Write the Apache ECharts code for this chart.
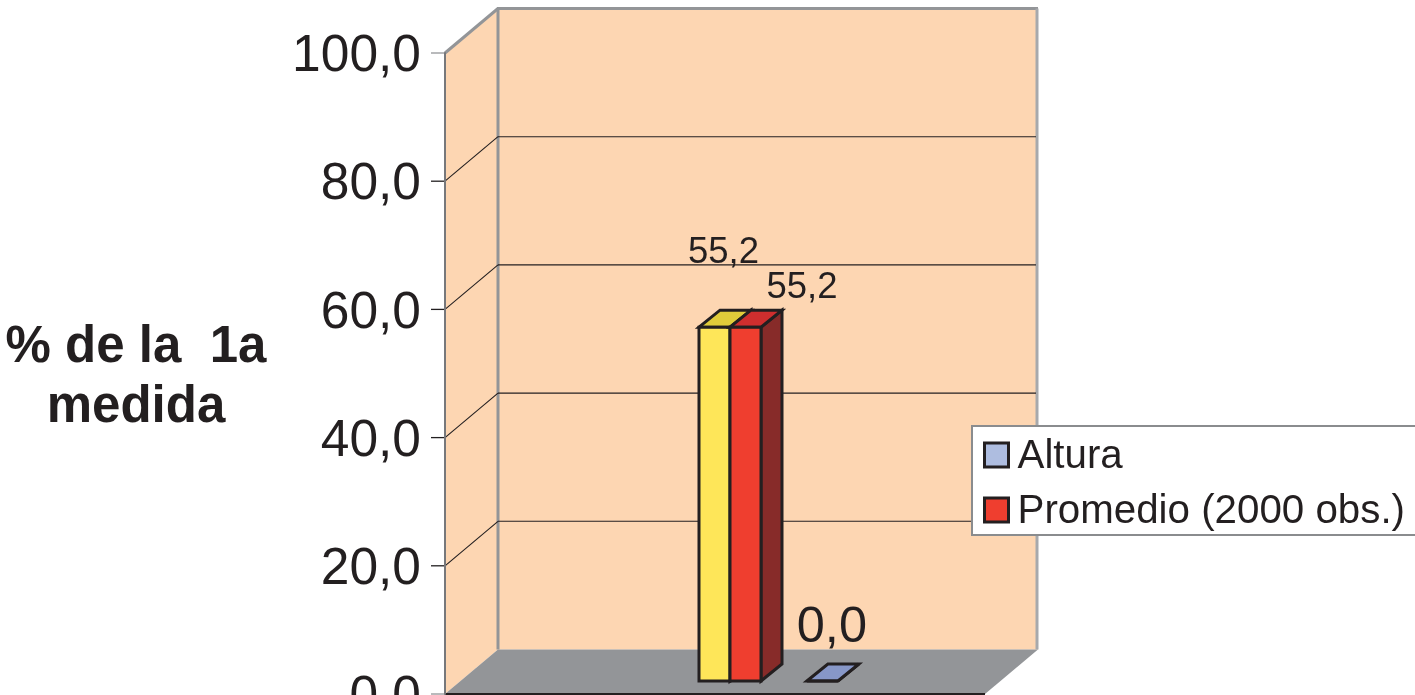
<!DOCTYPE html>
<html>
<head>
<meta charset="utf-8">
<style>html,body{margin:0;padding:0;background:#fff}#chart{width:1415px;height:695px}</style>
<script src="https://cdn.jsdelivr.net/npm/echarts@6/dist/echarts.min.js"></script>
</head>
<body>
<div id="chart"></div>
<script>
// Values of the chart
const categories = [''];
const yTicks = [0, 20, 40, 60, 80, 100];
const referencia = [55.2];
const promedio = [55.2];
const altura = [0.0];

const INK = '#231f20';
const FONT = '"Liberation Sans", Arial, sans-serif';
const fmt = v => v.toFixed(1).replace('.', ',');

// Oblique projection of the chart box and of the bars
const BOX_DX = 53, BOX_DY = -44.5;
const BAR_W = 31, BAR_DX = 21, BAR_DY = -17, PLANE_DX = 15, PLANE_DY = -13;

function poly(points, fill, stroke, width) {
  return { type: 'polygon', shape: { points }, style: { fill, stroke, lineWidth: width, lineJoin: 'miter' } };
}
function seg(x1, y1, x2, y2, stroke, width) {
  return { type: 'line', shape: { x1, y1, x2, y2 }, style: { stroke, lineWidth: width, fill: null } };
}

// Side wall, back wall and floor, placed from the grid rectangle
function renderBox(params, api) {
  const g = params.coordSys;
  const L = g.x, R = g.x + g.width, T = g.y, B = g.y + g.height;
  const peach = '#fdd6b2', edge = '#939598';
  return { type: 'group', silent: true, children: [
    poly([[L, T], [L + BOX_DX, T + BOX_DY], [L + BOX_DX, B + BOX_DY], [L, B]], peach, null, 0),
    poly([[L + BOX_DX, T + BOX_DY], [R + BOX_DX, T + BOX_DY], [R + BOX_DX, B + BOX_DY], [L + BOX_DX, B + BOX_DY]], peach, null, 0),
    poly([[L, B], [L + BOX_DX, B + BOX_DY], [R + BOX_DX, B + BOX_DY], [R, B]], '#939598', null, 0),
    seg(L, T, L + BOX_DX, T + BOX_DY, edge, 3),
    seg(L + BOX_DX - 1, T + BOX_DY, R + BOX_DX, T + BOX_DY, edge, 3),
    seg(L + BOX_DX, T + BOX_DY, L + BOX_DX, B + BOX_DY, edge, 3),
    seg(R + BOX_DX - 1, T + BOX_DY, R + BOX_DX - 1, B + BOX_DY, '#a7a9ac', 3),
    seg(L, B, R, B, INK, 2)
  ] };
}

// Wall rule for one tick: up the side wall, then across the back wall
function renderRule(params, api) {
  const g = params.coordSys;
  const v = api.value(0);
  const y = api.coord([0, v])[1];
  const L = g.x, R = g.x + g.width;
  const outer = v === yTicks[0] || v === yTicks[yTicks.length - 1];
  const children = [seg(L - 14, y, L, y, outer ? '#939598' : INK, 1.3)];
  if (!outer) {
    children.push(seg(L, y, L + BOX_DX, y + BOX_DY, INK, 1.1));
    children.push(seg(L + BOX_DX, y + BOX_DY, R + BOX_DX - 2, y + BOX_DY, INK, 1.1));
  }
  return { type: 'group', silent: true, children };
}

// One prism; slot is its place beside the middle of the category, in bar widths
function prism(slot, front, top, side, labelDx, labelDy, labelSize) {
  return function (params, api) {
    const v = api.value(1);
    const head = api.coord([api.value(0), v]);
    const foot = api.coord([api.value(0), 0]);
    const x0 = head[0] + PLANE_DX + slot * BAR_W, x1 = x0 + BAR_W;
    const yT = head[1] + PLANE_DY, yB = foot[1] + PLANE_DY;
    const lw = 3;
    return { type: 'group', silent: true, children: [
      poly([[x1, yT], [x1 + BAR_DX, yT + BAR_DY], [x1 + BAR_DX, yB + BAR_DY], [x1, yB]], side, INK, lw),
      poly([[x0, yT], [x0 + BAR_DX, yT + BAR_DY], [x1 + BAR_DX, yT + BAR_DY], [x1, yT]], top, INK, lw),
      poly([[x0, yT], [x1, yT], [x1, yB], [x0, yB]], front, INK, lw),
      { type: 'text', style: {
          x: x0 + labelDx, y: yT + labelDy, text: fmt(v), fill: INK,
          font: labelSize + 'px ' + FONT, textAlign: 'center', textVerticalAlign: 'middle'
      } }
    ] };
  };
}

const chart = echarts.init(document.getElementById('chart'), null, { renderer: 'canvas' });
chart.setOption({
  animation: false,
  backgroundColor: '#ffffff',
  title: {
    text: '% de la  1a\nmedida',
    left: 131, top: 313, textAlign: 'center',
    textStyle: { fontFamily: FONT, fontWeight: 'bold', fontSize: 51, lineHeight: 60, color: INK }
  },
  grid: { left: 445, top: 53, width: 540, height: 641, containLabel: false, outerBoundsMode: 'none' },
  xAxis: { type: 'category', data: categories, show: false },
  yAxis: {
    type: 'value', min: 0, max: 100, interval: 20, z: 5,
    axisLine: { show: true, lineStyle: { color: '#77787b', width: 2 } },
    axisTick: { show: false },
    splitLine: { show: false },
    axisLabel: {
      margin: 24,
      formatter: v => '{t|' + fmt(v) + '}',
      rich: { t: { color: INK, fontFamily: FONT, fontSize: 51.5, padding: [8, 0, 0, 0] } }
    }
  },
  legend: {
    orient: 'vertical', left: 972, top: 426,
    data: [
      { name: 'Altura', itemStyle: { color: '#aebde0' } },
      { name: 'Promedio (2000 obs.)', itemStyle: { color: '#ef3e2f' } }
    ],
    selectedMode: false,
    backgroundColor: '#ffffff', borderColor: '#8a8c8e', borderWidth: 2,
    padding: [11, 12, 3, 11], itemGap: 15,
    itemWidth: 24, itemHeight: 24, icon: 'rect',
    itemStyle: { borderColor: INK, borderWidth: 3 },
    formatter: name => '{t|' + name + '}',
    textStyle: {
      padding: [0, 0, 0, 4],
      rich: { t: { color: INK, fontFamily: FONT, fontSize: 40.3, padding: [4, 0, 0, 0] } }
    }
  },
  series: [
    { type: 'custom', name: 'Caja', z: 1, clip: false, silent: true, renderItem: renderBox, data: [[0]], encode: { x: 0 } },
    { type: 'custom', name: 'Reglas', z: 2, clip: false, silent: true, renderItem: renderRule, data: yTicks.map(t => [t]), encode: { y: 0 } },
    { type: 'custom', name: 'Referencia', z: 3, clip: false, silent: true,
      renderItem: prism(-1, '#fee659', '#e0cc3a', '#e0cc3a', 24.5, -74, 36.5),
      data: referencia.map((v, i) => [i, v]), encode: { x: 0, y: 1 } },
    { type: 'custom', name: 'Promedio (2000 obs.)', z: 4, clip: false, silent: true,
      itemStyle: { color: '#ef3e2f' },
      renderItem: prism(0, '#ef3e2f', '#cf2e2e', '#872b29', 72, -39, 36.5),
      data: promedio.map((v, i) => [i, v]), encode: { x: 0, y: 1 } },
    { type: 'custom', name: 'Altura', z: 4, clip: false, silent: true,
      itemStyle: { color: '#aebde0' },
      renderItem: prism(2.48, '#8797c8', '#8797c8', '#8797c8', 25, -53, 50.5),
      data: altura.map((v, i) => [i, v]), encode: { x: 0, y: 1 } }
  ]
});
</script>
</body>
</html>
